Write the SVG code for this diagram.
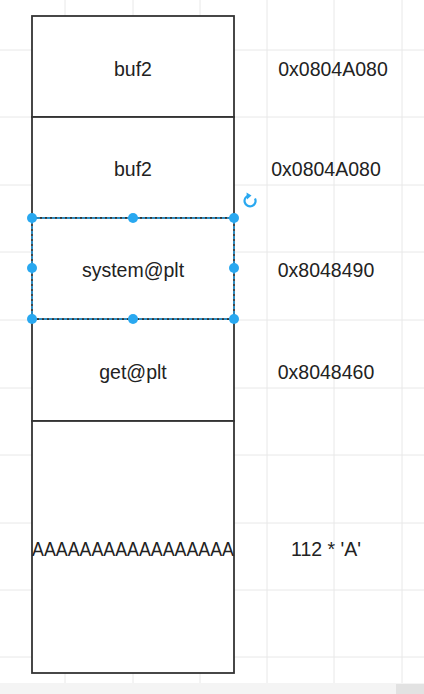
<svg xmlns="http://www.w3.org/2000/svg" width="424" height="694" viewBox="0 0 424 694">
<style>
.grid line{stroke:#e8e8e8;stroke-width:1}
.box{fill:#ffffff;stroke:#333333;stroke-width:1.8}
.t{font-family:"Liberation Sans",Arial,sans-serif;font-size:19.5px;fill:#222222;text-anchor:middle}
.sel{fill:none;stroke:#29a8f0;stroke-width:1.4;stroke-dasharray:3 2}
.h{fill:#29a8f0}
</style>
<rect width="424" height="694" fill="#ffffff"/>
<g class="grid">
<line x1="65" y1="0" x2="65" y2="683"/>
<line x1="133" y1="0" x2="133" y2="683"/>
<line x1="200" y1="0" x2="200" y2="683"/>
<line x1="267" y1="0" x2="267" y2="683"/>
<line x1="334" y1="0" x2="334" y2="683"/>
<line x1="402" y1="0" x2="402" y2="683"/>
<line x1="0" y1="50" x2="424" y2="50"/>
<line x1="0" y1="117" x2="424" y2="117"/>
<line x1="0" y1="185" x2="424" y2="185"/>
<line x1="0" y1="252" x2="424" y2="252"/>
<line x1="0" y1="320" x2="424" y2="320"/>
<line x1="0" y1="388" x2="424" y2="388"/>
<line x1="0" y1="455" x2="424" y2="455"/>
<line x1="0" y1="523" x2="424" y2="523"/>
<line x1="0" y1="590" x2="424" y2="590"/>
<line x1="0" y1="657" x2="424" y2="657"/>
</g>
<rect x="0" y="683" width="424" height="11" fill="#f4f4f4"/>
<rect x="396" y="684" width="28" height="10" fill="#e2e2e2"/>
<g id="node-buf2-top">
<rect class="box" x="32" y="16" width="202" height="101"/>
<text class="t" x="133" y="76">buf2</text>
</g>
<g id="node-buf2">
<rect class="box" x="32" y="117" width="202" height="101"/>
<text class="t" x="133" y="176">buf2</text>
</g>
<g id="node-get">
<rect class="box" x="32" y="319" width="202" height="102"/>
<text class="t" x="133" y="379">get@plt</text>
</g>
<g id="node-padding">
<rect class="box" x="32" y="421" width="202" height="252"/>
<text class="t" x="133" y="556" font-size="18" textLength="202" lengthAdjust="spacingAndGlyphs">AAAAAAAAAAAAAAAAA</text>
</g>
<g id="node-system">
<rect class="box" x="32" y="218" width="202" height="101"/>
<text class="t" x="133" y="277">system@plt</text>
<rect class="sel" x="32" y="218" width="202" height="101"/>
<circle class="h" cx="32" cy="218" r="5"/>
<circle class="h" cx="133" cy="218" r="5"/>
<circle class="h" cx="234" cy="218" r="5"/>
<circle class="h" cx="32" cy="268" r="5"/>
<circle class="h" cx="234" cy="268" r="5"/>
<circle class="h" cx="32" cy="319" r="5"/>
<circle class="h" cx="133" cy="319" r="5"/>
<circle class="h" cx="234" cy="319" r="5"/>
<path d="M255 198.5 A5.5 5.5 0 1 1 249 195.5" fill="none" stroke="#29a8f0" stroke-width="2.2"/>
<path d="M246.5 192.5 L251.5 195.5 L247 199.5 Z" fill="#29a8f0"/>
</g>
<g id="labels">
<text class="t" x="333" y="76">0x0804A080</text>
<text class="t" x="326" y="176">0x0804A080</text>
<text class="t" x="326" y="277">0x8048490</text>
<text class="t" x="326" y="379">0x8048460</text>
<text class="t" x="326" y="556">112 * 'A'</text>
</g>
<g id="connectors"/>
</svg>
